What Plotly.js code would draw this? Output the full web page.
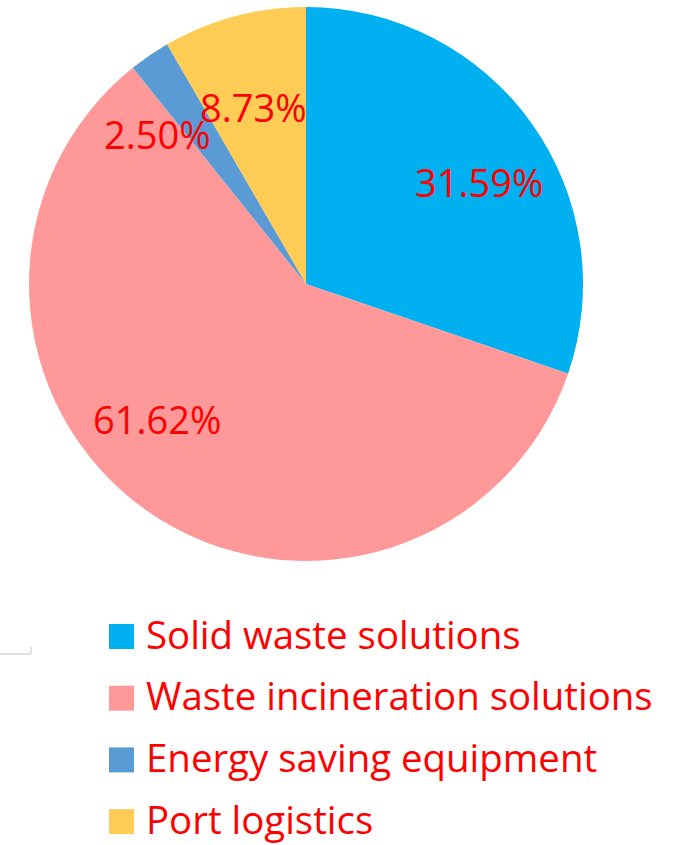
<!DOCTYPE html>
<html>
<head>
<meta charset="utf-8">
<script src="https://cdn.plot.ly/plotly-3.0.1.min.js"></script>
<style>
html,body{margin:0;padding:0;background:#fff;}
#chart{width:677px;height:845px;}
</style>
</head>
<body>
<div id="chart"></div>
<script>
const categories = ["Solid waste solutions", "Waste incineration solutions", "Energy saving equipment", "Port logistics"];
const shares = [31.59, 61.62, 2.50, 8.73];
const colors = ["#00B0F0", "#FF9999", "#5B9BD5", "#FFCC55"];

const W = 677, H = 845;
const cx = 306, cy = 284, R = 277;
const FONT = "Open Sans, Noto Sans, sans-serif";

const trace = {
  type: "pie",
  labels: categories,
  values: shares,
  sort: false,
  direction: "clockwise",
  rotation: 0,
  marker: {colors: colors, line: {width: 0}},
  textinfo: "none",
  hoverinfo: "label+value",
  showlegend: false,
  domain: {x: [(cx - R) / W, (cx + R) / W], y: [1 - (cy + R) / H, 1 - (cy - R) / H]}
};

// data label placement (pixel centres, layout only)
const labelCentres = [[479, 182], [157, 419], [157, 134], [253, 107]];

const shapes = [];
const annotations = [];
shares.forEach((v, i) => {
  annotations.push({xref: "paper", yref: "paper",
    x: labelCentres[i][0] / W, y: 1 - labelCentres[i][1] / H,
    xanchor: "center", yanchor: "middle", showarrow: false,
    text: v.toFixed(2) + "%",
    font: {family: FONT, size: 38, color: "#FF0000"}});
});

const legendTop = 624, legendStep = 61.7, box = 25;
categories.forEach((c, i) => {
  const y0 = legendTop + i * legendStep;
  shapes.push({type: "rect", xref: "paper", yref: "paper",
    x0: 109 / W, x1: (109 + box) / W, y0: 1 - (y0 + box) / H, y1: 1 - y0 / H,
    fillcolor: colors[i], line: {width: 0}});
  annotations.push({xref: "paper", yref: "paper", x: 144 / W, y: 1 - (y0 + box / 2 - 3) / H,
    xanchor: "left", yanchor: "middle", text: c, showarrow: false,
    font: {family: FONT, size: 38.4, color: "#FF0000"}});
});
// small grey corner mark on the left
shapes.push({type: "line", xref: "paper", yref: "paper", x0: 0, x1: 31 / W, y0: 1 - 654 / H, y1: 1 - 654 / H, line: {color: "#D9D9D9", width: 1.5}});
shapes.push({type: "line", xref: "paper", yref: "paper", x0: 31 / W, x1: 31 / W, y0: 1 - 647 / H, y1: 1 - 654 / H, line: {color: "#D9D9D9", width: 1.5}});

const layout = {
  width: W, height: H,
  margin: {l: 0, r: 0, t: 0, b: 0},
  paper_bgcolor: "#FFFFFF",
  showlegend: false,
  shapes: shapes,
  annotations: annotations
};

Plotly.newPlot("chart", [trace], layout, {displayModeBar: false, staticPlot: true});
</script>
</body>
</html>
